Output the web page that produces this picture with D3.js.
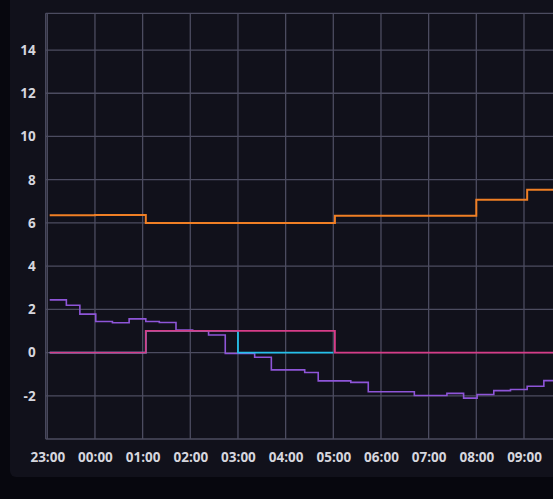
<!DOCTYPE html>
<html>
<head>
<meta charset="utf-8">
<script src="https://cdn.jsdelivr.net/npm/d3@7"></script>
<style>
  html, body { margin: 0; padding: 0; background: #07070e; overflow: hidden; }
  #root { width: 553px; height: 499px; }
</style>
</head>
<body>
<div id="root"></div>
<script>
// step series, values (time = start of the step)
const orangeTimes = ["23:03", "00:00", "01:04", "05:02", "08:00", "09:04", "09:50"];
const orangeValues = [6.35, 6.37, 6.0, 6.33, 7.07, 7.53, 7.53];

const purpleTimes = ["23:03", "23:24", "23:41", "00:01", "00:22", "00:43", "01:04", "01:21",
  "01:42", "02:03", "02:23", "02:44", "03:21", "03:42", "04:24", "04:41", "05:22", "05:44",
  "06:42", "07:23", "07:44", "08:01", "08:22", "08:43", "09:04", "09:25", "09:50"];
const purpleValues = [2.44, 2.19, 1.78, 1.44, 1.38, 1.56, 1.44, 1.39,
  1.04, 1.0, 0.81, -0.04, -0.22, -0.8, -0.92, -1.31, -1.38, -1.81,
  -1.99, -1.89, -2.11, -1.94, -1.76, -1.71, -1.56, -1.3, -1.3];

const cyanTimes = ["23:03", "01:04", "03:00", "05:00"];
const cyanValues = [0, 1, 0, 0];

const pinkTimes = ["23:03", "01:04", "05:02", "09:50"];
const pinkValues = [0, 1, 0, 0];

const yTicks = [-2, 0, 2, 4, 6, 8, 10, 12, 14];
const xTickHours = ["23:00", "00:00", "01:00", "02:00", "03:00", "04:00",
  "05:00", "06:00", "07:00", "08:00", "09:00"];

// 23:xx is on the first day, everything else on the next one
function toDate(hhmm) {
  const [h, m] = hhmm.split(":").map(Number);
  return new Date(2024, 0, h >= 12 ? 1 : 2, h, m);
}
const zip = (times, values) => times.map((t, i) => ({ date: toDate(t), value: values[i] }));

const width = 553;
const height = 499;
const plot = { left: 45.7, top: 13.3, bottom: 439 };
const labelFont = "'Open Sans', sans-serif";

const svg = d3.select("#root")
  .append("svg")
  .attr("width", width)
  .attr("height", height)
  .style("display", "block");

// panel
svg.append("rect")
  .attr("x", 10).attr("y", -20)
  .attr("width", 600).attr("height", 497)
  .attr("rx", 6)
  .attr("fill", "#11111b");

const xScale = d3.scaleTime()
  .domain([toDate("22:58"), toDate("10:34")])
  .range([plot.left, plot.left + 47.67 * 11.6]);

const yScale = d3.scaleLinear()
  .domain([-4, 15.7])
  .range([plot.bottom, plot.top]);

const gridColor = "#4c4c60";

// horizontal grid
svg.append("g")
  .selectAll("line")
  .data([-4, ...yTicks, 15.7])
  .join("line")
  .attr("x1", plot.left)
  .attr("x2", width + 10)
  .attr("y1", (d) => yScale(d))
  .attr("y2", (d) => yScale(d))
  .attr("stroke", gridColor)
  .attr("stroke-width", 1.3);

// vertical grid
const xTickDates = xTickHours.map(toDate);
svg.append("g")
  .selectAll("line")
  .data([toDate("22:58"), ...xTickDates])
  .join("line")
  .attr("x1", (d) => xScale(d))
  .attr("x2", (d) => xScale(d))
  .attr("y1", plot.top)
  .attr("y2", plot.bottom)
  .attr("stroke", gridColor)
  .attr("stroke-width", 1.3);

// axes labels
const leftAxis = d3.axisLeft(yScale)
  .tickValues(yTicks)
  .tickFormat((d) => String(d))
  .tickSize(0)
  .tickPadding(10);
svg.append("g")
  .attr("transform", `translate(${plot.left}, 0)`)
  .call(leftAxis)
  .call((g) => g.select(".domain").remove())
  .attr("font-family", labelFont)
  .attr("font-size", 13.5)
  .selectAll("text")
  .attr("fill", "#d6d6de")
  .attr("font-weight", 700);

const bottomAxis = d3.axisBottom(xScale)
  .tickValues(xTickDates)
  .tickFormat(d3.timeFormat("%H:%M"))
  .tickSize(0)
  .tickPadding(13);
svg.append("g")
  .attr("transform", `translate(0, ${plot.bottom})`)
  .call(bottomAxis)
  .call((g) => g.select(".domain").remove())
  .attr("font-family", labelFont)
  .attr("font-size", 13.5)
  .selectAll("text")
  .attr("fill", "#d6d6de")
  .attr("font-weight", 700);

// lines
const line = d3.line()
  .x((d) => xScale(d.date))
  .y((d) => yScale(d.value))
  .curve(d3.curveStepAfter);

const series = [
  { data: zip(orangeTimes, orangeValues), color: "#f07f25", w: 2 },
  { data: zip(purpleTimes, purpleValues), color: "#8e55d8", w: 1.6 },
  { data: zip(cyanTimes, cyanValues), color: "#25c0ea", w: 1.8 },
  { data: zip(pinkTimes, pinkValues), color: "#d63c88", w: 1.8 },
];

svg.append("g")
  .selectAll("path")
  .data(series)
  .join("path")
  .attr("d", (d) => line(d.data))
  .attr("fill", "none")
  .attr("stroke", (d) => d.color)
  .attr("stroke-width", (d) => d.w);
</script>
</body>
</html>
